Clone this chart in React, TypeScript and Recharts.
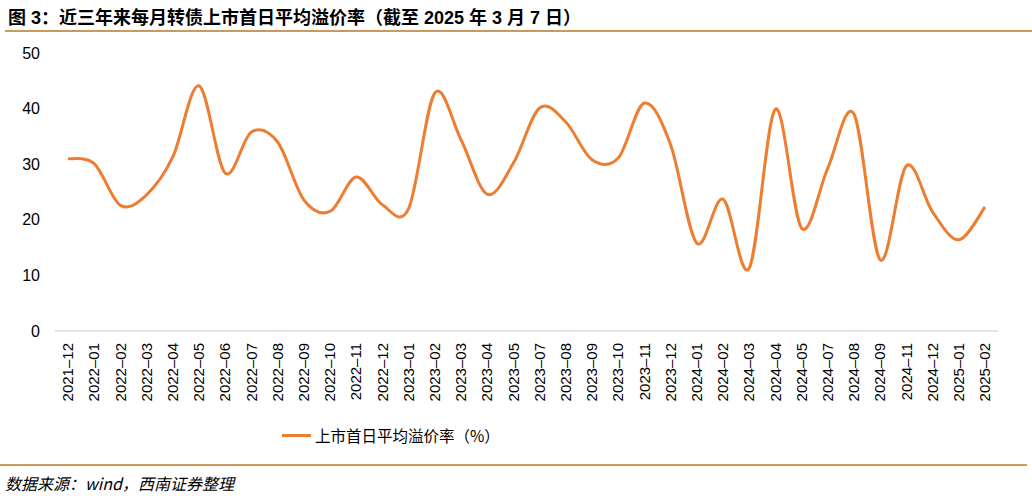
import React from "react";
import { LineChart, Line, XAxis, YAxis } from "recharts";

const months = [
  "2021-12", "2022-01", "2022-02", "2022-03", "2022-04", "2022-05", "2022-06",
  "2022-07", "2022-08", "2022-09", "2022-10", "2022-11", "2022-12", "2023-01",
  "2023-02", "2023-03", "2023-04", "2023-05", "2023-07", "2023-08", "2023-09",
  "2023-10", "2023-11", "2023-12", "2024-01", "2024-02", "2024-03", "2024-04",
  "2024-05", "2024-07", "2024-08", "2024-09", "2024-11", "2024-12", "2025-01",
  "2025-02",
];

const premium = [
  31.0, 30.1, 22.6, 24.5, 31.3, 44.1, 28.4, 35.8, 34.0, 23.6, 21.5, 27.7,
  22.7, 22.0, 42.8, 34.4, 24.6, 30.2, 40.1, 37.6, 30.8, 31.1, 41.0, 33.5,
  15.8, 23.7, 11.3, 39.9, 18.5, 29.3, 39.0, 12.8, 29.7, 21.4, 16.4, 22.3,
];

const yTicks = [0, 10, 20, 30, 40, 50];

const seriesName = "上市首日平均溢价率（%）";
const title = "图 3：近三年来每月转债上市首日平均溢价率（截至 2025 年 3 月 7 日）";
const source = "数据来源：wind，西南证券整理";

const data = months.map((m, i) => ({ month: m, value: premium[i] }));

// smooth curve like the office chart "smoothed line" (catmull-rom style bezier)
const smoothCurve = (ctx: any) => {
  let pts: number[][] = [];
  return {
    areaStart() {},
    areaEnd() {},
    lineStart() {
      pts = [];
    },
    point(x: number, y: number) {
      pts.push([+x, +y]);
    },
    lineEnd() {
      const n = pts.length;
      if (!n) return;
      ctx.moveTo(pts[0][0], pts[0][1]);
      for (let i = 0; i < n - 1; i++) {
        const p0 = pts[Math.max(i - 1, 0)];
        const p1 = pts[i];
        const p2 = pts[i + 1];
        const p3 = pts[Math.min(i + 2, n - 1)];
        ctx.bezierCurveTo(
          p1[0] + (p2[0] - p0[0]) / 6,
          p1[1] + (p2[1] - p0[1]) / 6,
          p2[0] - (p3[0] - p1[0]) / 6,
          p2[1] - (p3[1] - p1[1]) / 6,
          p2[0],
          p2[1]
        );
      }
    },
  };
};

const font = '"Liberation Sans", Arial, "Noto Sans CJK SC", sans-serif';
const ruleColor = "#C99A5B";

const MonthTick = ({ x, y, payload }: any) => (
  <g transform={`translate(${x},${y + 12})`}>
    <text
      transform="rotate(-90)"
      textAnchor="end"
      dy="0.35em"
      fontSize={15}
      fill="#000"
      fontFamily={font}
    >
      {String(payload.value).replace("-", "–")}
    </text>
  </g>
);

export default function App() {
  return (
    <div
      style={{
        position: "absolute",
        left: 0,
        top: 0,
        width: 1032,
        height: 496,
        background: "#fff",
        fontFamily: font,
        overflow: "hidden",
      }}
    >
      <div
        style={{
          position: "absolute",
          left: 8,
          top: 3,
          fontSize: 18,
          fontWeight: "bold",
          color: "#000",
          whiteSpace: "nowrap",
        }}
      >
        {title}
      </div>
      <div style={{ position: "absolute", left: 5, top: 30, width: 1027, height: 2, background: ruleColor }} />

      <div style={{ position: "absolute", left: 0, top: 0 }}>
        <LineChart width={1032} height={460} data={data} margin={{ top: 53, right: 34, bottom: 49, left: 10 }}>
          <XAxis
            dataKey="month"
            interval={0}
            padding={{ left: 13, right: 13 }}
            tickLine={false}
            tickSize={0}
            tickMargin={0}
            height={80}
            axisLine={{ stroke: "#D9D9D9", strokeWidth: 1.5 }}
            tick={<MonthTick />}
          />
          <YAxis
            width={45}
            domain={[0, 50]}
            ticks={yTicks}
            axisLine={false}
            tickLine={false}
            tickSize={0}
            tickMargin={15}
            tick={{ fontSize: 16, fill: "#000", fontFamily: font }}
          />
          <Line
            dataKey="value"
            name={seriesName}
            type={smoothCurve as any}
            stroke="#ED7D31"
            strokeWidth={3}
            dot={false}
            activeDot={false}
            isAnimationActive={false}
          />
        </LineChart>
      </div>

      <div
        style={{
          position: "absolute",
          left: 282,
          top: 424,
          display: "flex",
          alignItems: "center",
          whiteSpace: "nowrap",
        }}
      >
        <span style={{ display: "inline-block", width: 29, height: 3, background: "#ED7D31", marginRight: 4 }} />
        <span style={{ fontSize: 15.5, color: "#000", fontFamily: '"Noto Sans CJK SC", sans-serif' }}>{seriesName}</span>
      </div>

      <div style={{ position: "absolute", left: 0, top: 464, width: 1027, height: 2, background: ruleColor }} />
      <div
        style={{
          position: "absolute",
          left: 5,
          top: 471,
          fontSize: 16,
          fontStyle: "italic",
          color: "#000",
          whiteSpace: "nowrap",
          fontFamily: '"Noto Sans CJK SC", sans-serif',
        }}
      >
        {source}
      </div>
    </div>
  );
}
